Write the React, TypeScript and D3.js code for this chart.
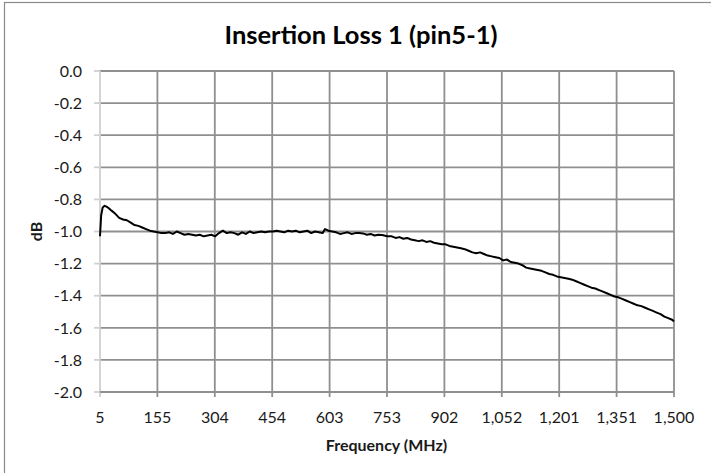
import { useEffect, useRef } from "react";
import * as d3 from "d3";

// Frequency (MHz) and insertion loss (dB)
const freqs = [
  5, 8, 12, 17, 22, 28, 35, 45, 55, 65, 75, 85, 95, 105, 115, 125, 135, 145,
  155, 165, 175, 185, 195, 205, 215, 225, 235, 245, 255, 265, 275, 285, 295,
  305, 315, 325, 335, 345, 355, 365, 375, 385, 395, 405, 415, 425, 435, 445,
  455, 465, 475, 485, 495, 505, 515, 525, 535, 545, 555, 565, 575, 585, 591,
  600, 610, 620, 630, 640, 650, 660, 670, 680, 690, 700, 710, 720, 730, 740,
  753, 765, 775, 785, 795, 805, 815, 825, 835, 845, 855, 865, 875, 885, 895,
  905, 915, 925, 935, 945, 955, 965, 975, 985, 995, 1005, 1015, 1025, 1035,
  1045, 1055, 1065, 1075, 1085, 1095, 1105, 1115, 1125, 1135, 1145, 1155,
  1165, 1175, 1185, 1195, 1205, 1215, 1225, 1235, 1245, 1255, 1265, 1275,
  1285, 1295, 1305, 1315, 1325, 1335, 1345, 1355, 1365, 1375, 1385, 1395,
  1405, 1415, 1425, 1435, 1445, 1455, 1465, 1475, 1485, 1495, 1500,
];

const lossDb = [
  -1.03, -0.9, -0.85, -0.84, -0.845, -0.855, -0.87, -0.89, -0.915, -0.925,
  -0.93, -0.945, -0.96, -0.965, -0.975, -0.985, -0.995, -1.0, -1.005, -1.01,
  -1.01, -1.005, -1.015, -1.0, -1.01, -1.02, -1.015, -1.02, -1.025, -1.02,
  -1.03, -1.025, -1.02, -1.03, -1.01, -0.995, -1.01, -1.005, -1.01, -1.02,
  -1.005, -1.015, -1.0, -1.01, -1.005, -1.0, -1.005, -1.0, -1.0, -0.995, -1.0,
  -1.005, -0.995, -1.0, -0.995, -1.005, -1.0, -0.995, -1.01, -1.0, -1.005,
  -1.01, -0.985, -0.995, -1.0, -1.005, -1.015, -1.01, -1.005, -1.015, -1.01,
  -1.01, -1.012, -1.02, -1.015, -1.025, -1.02, -1.022, -1.03, -1.03, -1.04,
  -1.035, -1.045, -1.04, -1.05, -1.055, -1.06, -1.055, -1.065, -1.06, -1.07,
  -1.075, -1.08, -1.08, -1.09, -1.095, -1.1, -1.105, -1.11, -1.12, -1.13,
  -1.135, -1.13, -1.14, -1.15, -1.155, -1.16, -1.165, -1.18, -1.175, -1.19,
  -1.195, -1.2, -1.21, -1.225, -1.23, -1.235, -1.24, -1.245, -1.255, -1.265,
  -1.27, -1.28, -1.285, -1.29, -1.295, -1.3, -1.31, -1.32, -1.33, -1.34, -1.35,
  -1.355, -1.365, -1.375, -1.385, -1.395, -1.405, -1.41, -1.42, -1.43, -1.44,
  -1.45, -1.46, -1.465, -1.475, -1.485, -1.495, -1.505, -1.515, -1.53, -1.54,
  -1.55, -1.56,
];

const xTickLabels = [
  "5", "155", "304", "454", "603", "753", "902", "1,052", "1,201", "1,351", "1,500",
];
const yTicks = [0, -0.2, -0.4, -0.6, -0.8, -1.0, -1.2, -1.4, -1.6, -1.8, -2.0];

const FONT = "Lato, 'Open Sans', sans-serif";

const App = () => {
  const svgRef = useRef<SVGSVGElement>(null);

  useEffect(() => {
    const svg = d3.select(svgRef.current);
    svg.selectAll("*").remove();

    const plot = { left: 100, right: 674, top: 71, bottom: 392 };

    const x = d3.scaleLinear().domain([5, 1500]).range([plot.left, plot.right]);
    const y = d3.scaleLinear().domain([-2, 0]).range([plot.bottom, plot.top]);

    // chart border (cropped on the right and bottom)
    svg
      .append("rect")
      .attr("x", 4.5)
      .attr("y", 2.5)
      .attr("width", 760)
      .attr("height", 520)
      .attr("fill", "#fff")
      .attr("stroke", "#8a8a8a")
      .attr("stroke-width", 1.2);

    svg
      .append("text")
      .attr("x", 361)
      .attr("y", 44)
      .attr("text-anchor", "middle")
      .attr("font-family", FONT)
      .attr("font-weight", "bold")
      .attr("font-size", 25.5)
      .attr("fill", "#000")
      .text("Insertion Loss 1 (pin5-1)");

    const xTicks = xTickLabels.map((_, i) => 5 + i * 149.5);

    // vertical grid
    svg
      .append("g")
      .selectAll("line")
      .data(xTicks.slice(1))
      .enter()
      .append("line")
      .attr("x1", (d) => x(d))
      .attr("x2", (d) => x(d))
      .attr("y1", plot.top)
      .attr("y2", plot.bottom + 5)
      .attr("stroke", "#8f8f8f")
      .attr("stroke-width", 1.8);

    // y ticks (light) and horizontal grid
    svg
      .append("g")
      .selectAll("line")
      .data(yTicks)
      .enter()
      .append("line")
      .attr("x1", plot.left - 6)
      .attr("x2", plot.left)
      .attr("y1", (d) => y(d))
      .attr("y2", (d) => y(d))
      .attr("stroke", "#d0d0d0")
      .attr("stroke-width", 1.8);

    svg
      .append("g")
      .selectAll("line")
      .data(yTicks.slice(0, -1))
      .enter()
      .append("line")
      .attr("x1", plot.left)
      .attr("x2", plot.right)
      .attr("y1", (d) => y(d))
      .attr("y2", (d) => y(d))
      .attr("stroke", "#8f8f8f")
      .attr("stroke-width", 1.8);

    // left axis (light)
    svg
      .append("line")
      .attr("x1", plot.left)
      .attr("x2", plot.left)
      .attr("y1", plot.top)
      .attr("y2", plot.bottom + 5)
      .attr("stroke", "#d0d0d0")
      .attr("stroke-width", 1.8);

    // bottom axis
    svg
      .append("line")
      .attr("x1", plot.left)
      .attr("x2", plot.right)
      .attr("y1", plot.bottom)
      .attr("y2", plot.bottom)
      .attr("stroke", "#8f8f8f")
      .attr("stroke-width", 1.8);

    svg
      .append("g")
      .selectAll("text")
      .data(yTicks)
      .enter()
      .append("text")
      .attr("x", 82)
      .attr("y", (d) => y(d))
      .attr("dy", "0.36em")
      .attr("text-anchor", "end")
      .attr("font-family", FONT)
      .attr("font-size", 16)
      .attr("fill", "#1a1a1a")
      .text((d) => d3.format(".1f")(d).replace("−", "-"));

    svg
      .append("g")
      .selectAll("text")
      .data(xTickLabels)
      .enter()
      .append("text")
      .attr("x", (_, i) => x(xTicks[i]))
      .attr("y", 423)
      .attr("text-anchor", "middle")
      .attr("font-family", FONT)
      .attr("font-size", 16)
      .attr("fill", "#1a1a1a")
      .text((d) => d);

    svg
      .append("text")
      .attr("x", 386.5)
      .attr("y", 451)
      .attr("text-anchor", "middle")
      .attr("font-family", FONT)
      .attr("font-weight", "bold")
      .attr("font-size", 16)
      .attr("fill", "#1a1a1a")
      .text("Frequency (MHz)");

    svg
      .append("text")
      .attr("transform", "translate(42,231.5) rotate(-90)")
      .attr("text-anchor", "middle")
      .attr("font-family", FONT)
      .attr("font-weight", "bold")
      .attr("font-size", 16)
      .attr("fill", "#1a1a1a")
      .text("dB");

    const points = freqs.map((f, i) => [f, lossDb[i]] as [number, number]);
    const line = d3
      .line<[number, number]>()
      .x((d) => x(d[0]))
      .y((d) => y(d[1]));

    svg
      .append("path")
      .datum(points)
      .attr("d", line)
      .attr("fill", "none")
      .attr("stroke", "#000")
      .attr("stroke-width", 2)
      .attr("stroke-linejoin", "round");
  }, []);

  return (
    <svg
      ref={svgRef}
      width={711}
      height={473}
      style={{ position: "absolute", left: 0, top: 0, background: "#fff" }}
    />
  );
};

export default App;
